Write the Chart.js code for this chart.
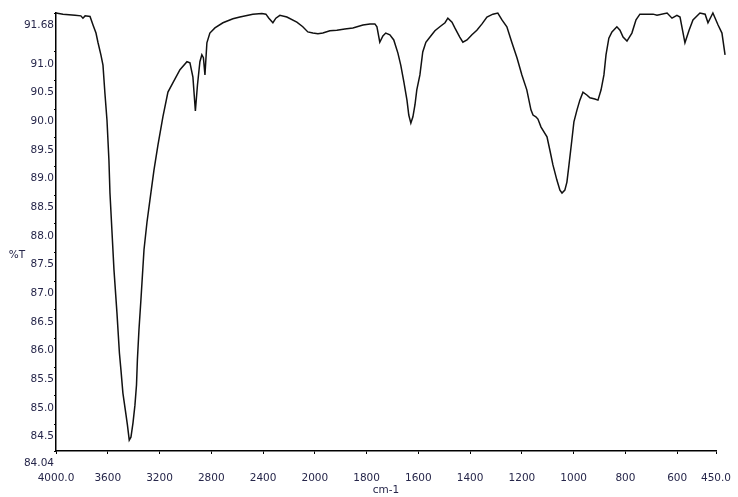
<!DOCTYPE html>
<html>
<head>
<meta charset="utf-8">
<script src="https://cdn.jsdelivr.net/npm/chart.js@4/dist/chart.umd.min.js"></script>
<style>
  body { margin: 0; background: #fff; }
  canvas { display: block; }
</style>
</head>
<body>
<canvas id="irChart" width="738" height="497"></canvas>
<script>
// wavenumber (cm-1) and %T
const wavenumbers = [
  4000, 3946, 3853, 3808, 3792, 3775, 3737, 3714, 3691, 3676, 3653, 3637, 3622, 3606, 3591, 3583,
  3568, 3552, 3529, 3510, 3498, 3483, 3459, 3448, 3434, 3421, 3405, 3390, 3378, 3371, 3359, 3344,
  3320, 3297, 3274, 3243, 3212, 3174, 3135, 3097, 3042, 2988, 2965, 2942, 2923, 2907, 2888, 2873,
  2861, 2849, 2834, 2811, 2772, 2710, 2633, 2579, 2479, 2409, 2378, 2355, 2324, 2301, 2270, 2216,
  2139, 2093, 2054, 2015, 1988, 1969, 1942, 1915, 1884, 1853, 1814, 1787, 1768, 1760, 1749, 1737,
  1726, 1710, 1695, 1679, 1668, 1656, 1644, 1637, 1629, 1621, 1613, 1606, 1594, 1583, 1571, 1555,
  1536, 1517, 1497, 1486, 1470, 1459, 1440, 1428, 1412, 1393, 1374, 1354, 1335, 1312, 1293, 1277,
  1258, 1239, 1219, 1200, 1181, 1165, 1157, 1146, 1138, 1126, 1103, 1092, 1080, 1065, 1053, 1045,
  1034, 1026, 1018, 1007, 999, 987, 976, 964, 949, 937, 918, 906, 894, 883, 875, 864,
  852, 833, 821, 809, 794, 775, 759, 744, 693, 678, 639, 620, 601, 589, 570, 554,
  539, 512, 492, 481, 462, 442, 427, 415
];
const transmittance = [
  91.68, 91.66, 91.64, 91.63, 91.59, 91.63, 91.62, 91.47, 91.33, 91.17, 90.95, 90.77, 90.28, 89.81, 89.11, 88.54,
  87.89, 87.20, 86.45, 85.75, 85.45, 85.05, 84.67, 84.49, 84.23, 84.28, 84.53, 84.84, 85.19, 85.63, 86.15, 86.67,
  87.55, 88.03, 88.42, 88.94, 89.38, 89.87, 90.30, 90.46, 90.69, 90.83, 90.81, 90.56, 89.97, 90.42, 90.83, 90.95,
  90.90, 90.60, 91.16, 91.33, 91.42, 91.51, 91.58, 91.61, 91.66, 91.67, 91.66, 91.59, 91.51, 91.59, 91.64, 91.61,
  91.52, 91.44, 91.35, 91.33, 91.32, 91.33, 91.37, 91.38, 91.40, 91.42, 91.47, 91.49, 91.49, 91.44, 91.17, 91.28,
  91.33, 91.30, 91.21, 90.98, 90.77, 90.48, 90.16, 89.90, 89.76, 89.87, 90.08, 90.34, 90.60, 91.00, 91.17, 91.26,
  91.37, 91.44, 91.51, 91.59, 91.52, 91.42, 91.26, 91.17, 91.21, 91.30, 91.38, 91.49, 91.61, 91.66, 91.68, 91.56,
  91.44, 91.17, 90.90, 90.60, 90.34, 89.99, 89.90, 89.87, 89.83, 89.69, 89.52, 89.29, 89.03, 88.77, 88.59, 88.54,
  88.59, 88.73, 89.03, 89.46, 89.78, 89.99, 90.16, 90.30, 90.25, 90.20, 90.18, 90.16, 90.34, 90.60, 90.95, 91.24,
  91.35, 91.44, 91.38, 91.26, 91.19, 91.33, 91.56, 91.66, 91.66, 91.64, 91.68, 91.59, 91.64, 91.61, 91.16, 91.38,
  91.56, 91.68, 91.66, 91.51, 91.68, 91.47, 91.33, 90.95
];

const xTicks = [4000, 3600, 3200, 2800, 2400, 2000, 1800, 1600, 1400, 1200, 1000, 800, 600, 450];
const yTicks = [84.04, 84.5, 85.0, 85.5, 86.0, 86.5, 87.0, 87.5, 88.0, 88.5, 89.0, 89.5, 90.0, 90.5, 91.0, 91.68];

const textColor = '#26264a';
const tickFont = { family: 'DejaVu Sans', size: 10.5 };

// x axis is drawn at double scale below 2000 cm-1
const LinearBase = Chart.registry.getScale('linear');
const U_MAX = 1000 + 1550;
function toU(v) { return v >= 2000 ? (4000 - v) / 2 : 1000 + (2000 - v); }
function fromU(u) { return u <= 1000 ? 4000 - 2 * u : 2000 - (u - 1000); }

class SplitScale extends LinearBase {
  getPixelForValue(value) {
    return this.getPixelForDecimal(toU(value) / U_MAX);
  }
  getValueForPixel(pixel) {
    return fromU(this.getDecimalForPixel(pixel) * U_MAX);
  }
}
SplitScale.id = 'split';
SplitScale.defaults = LinearBase.defaults;
Chart.register(SplitScale);

const yLabel = {
  id: 'yLabel',
  afterDraw(chart) {
    const ctx = chart.ctx;
    ctx.save();
    ctx.fillStyle = textColor;
    ctx.font = '10.5px "DejaVu Sans"';
    ctx.textAlign = 'center';
    ctx.textBaseline = 'middle';
    ctx.fillText('%T', 17, chart.chartArea.top + 242);
    ctx.restore();
  }
};

const points = wavenumbers.map((w, i) => ({ x: w, y: transmittance[i] }));

new Chart(document.getElementById('irChart'), {
  type: 'line',
  data: {
    datasets: [{
      data: points,
      borderColor: '#111',
      borderWidth: 1.5,
      pointRadius: 0,
      tension: 0,
      clip: false
    }]
  },
  options: {
    responsive: false,
    animation: false,
    devicePixelRatio: 1,
    layout: { padding: { top: 13, right: 22, left: 0, bottom: 0 } },
    plugins: {
      legend: { display: false },
      tooltip: { enabled: false }
    },
    scales: {
      x: {
        type: 'split',
        min: 450,
        max: 4000,
        afterBuildTicks: s => { s.ticks = xTicks.map(v => ({ value: v })); },
        afterFit: s => { s.height = 46; s.paddingLeft = 0; s.paddingRight = 0; },
        grid: { drawOnChartArea: false, tickLength: 3, tickColor: '#000' },
        border: { color: '#000', width: 1.5 },
        ticks: {
          autoSkip: false,
          maxRotation: 0,
          padding: 18,
          color: textColor,
          font: tickFont,
          callback: v => (v === 4000 || v === 450) ? v.toFixed(1) : String(v)
        },
        title: {
          display: true,
          text: 'cm-1',
          color: textColor,
          font: tickFont,
          padding: 0
        }
      },
      y: {
        min: 84.04,
        max: 91.68,
        afterBuildTicks: s => { s.ticks = yTicks.map(v => ({ value: v })); },
        afterFit: s => { s.width = 56; s.paddingTop = 0; s.paddingBottom = 0; },
        grid: { drawOnChartArea: false, tickLength: 2, tickColor: '#000' },
        border: { color: '#000', width: 1.5 },
        ticks: {
          autoSkip: false,
          padding: 0,
          labelOffset: 12,
          color: textColor,
          font: tickFont,
          callback: v => (v === 84.04 || v === 91.68) ? v.toFixed(2) : v.toFixed(1)
        }
      }
    }
  },
  plugins: [yLabel]
});
</script>
</body>
</html>
